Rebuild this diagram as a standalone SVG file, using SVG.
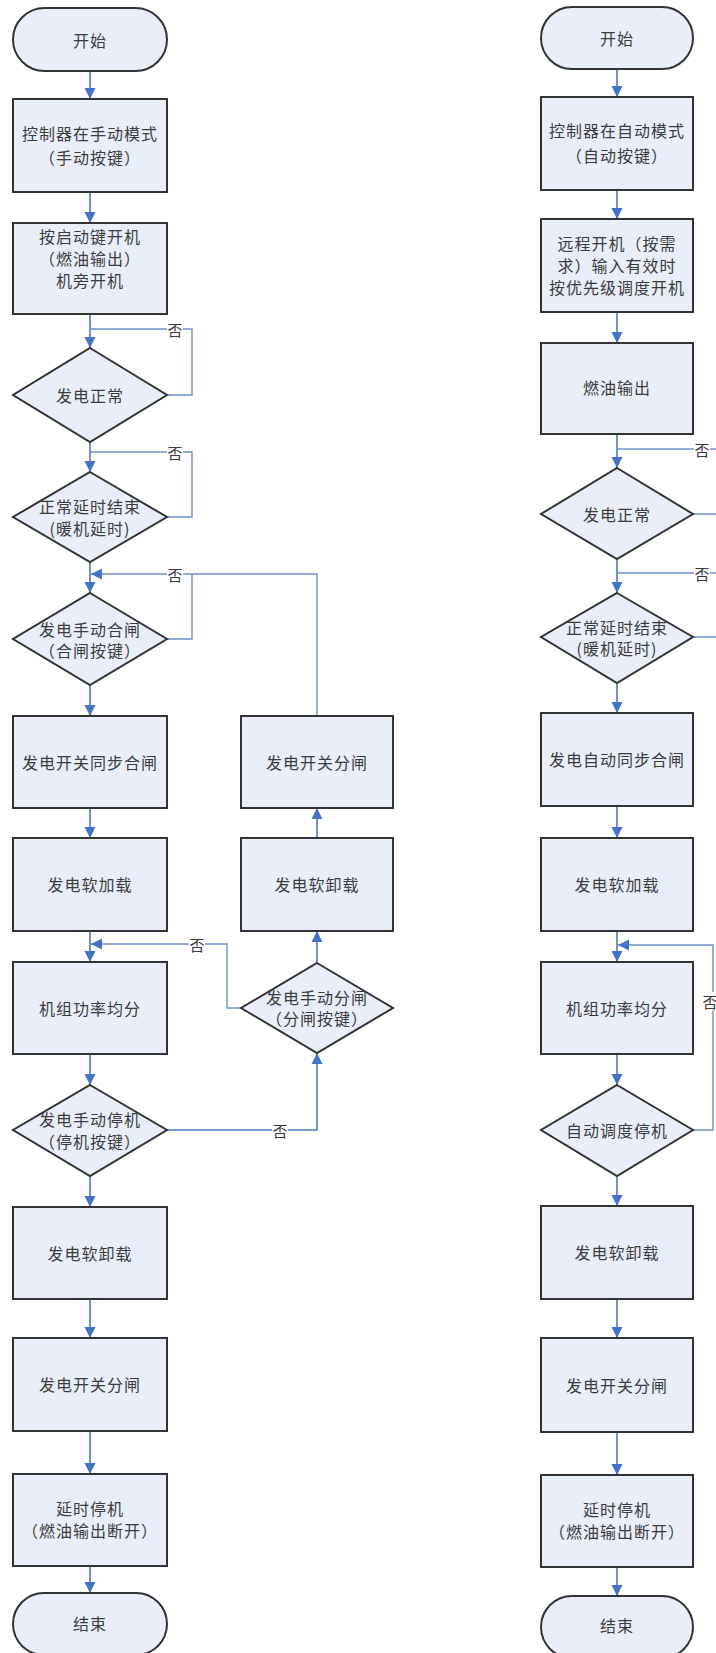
<svg xmlns="http://www.w3.org/2000/svg" width="716" height="1653" viewBox="0 0 716 1653">
<defs>
<marker id="arr" markerUnits="userSpaceOnUse" markerWidth="12" markerHeight="12" refX="11" refY="6" orient="auto">
<path d="M0,0.5 L11,6 L0,11.5 z" fill="#4472C4"/>
</marker>
<style>
.n{fill:#E9EEF8;stroke:#333;stroke-width:2}
.t{font-family:"Noto Sans CJK SC","Noto Sans CJK TC",sans-serif;font-size:16px;fill:#3c3c3c;text-anchor:middle;dominant-baseline:central;letter-spacing:1px}
.c{fill:none;stroke:#4F78BE;stroke-width:1.6}
.l{fill:none;stroke:#6F8FC6;stroke-width:1.4}
.lb{fill:#fff}
.y{font-family:"Noto Sans CJK SC",sans-serif;font-size:15px;fill:#3c3c3c;text-anchor:middle;dominant-baseline:central}
</style>
</defs>
<rect width="716" height="1653" fill="#fff"/>

<g id="connectors">
<!-- left column -->
<path class="c" d="M90,71 V99" marker-end="url(#arr)"/>
<path class="c" d="M90,192 V223" marker-end="url(#arr)"/>
<path class="c" d="M90,314 V348" marker-end="url(#arr)"/>
<path class="c" d="M90,442 V472" marker-end="url(#arr)"/>
<path class="c" d="M90,562 V593" marker-end="url(#arr)"/>
<path class="c" d="M90,685 V716" marker-end="url(#arr)"/>
<path class="c" d="M90,808 V838" marker-end="url(#arr)"/>
<path class="c" d="M90,931 V962" marker-end="url(#arr)"/>
<path class="c" d="M90,1054 V1085" marker-end="url(#arr)"/>
<path class="c" d="M90,1176 V1207" marker-end="url(#arr)"/>
<path class="c" d="M90,1299 V1338" marker-end="url(#arr)"/>
<path class="c" d="M90,1431 V1474" marker-end="url(#arr)"/>
<path class="c" d="M90,1566 V1593" marker-end="url(#arr)"/>
<path class="l" d="M167,395 H192 V329 H90"/>
<path class="l" d="M167,517 H192 V452 H90"/>
<path class="l" d="M167,639 H192 V574"/>
<path class="l" d="M317,716 V574 H91" marker-end="url(#arr)"/>
<path class="l" d="M241,1008 H227 V944 H91" marker-end="url(#arr)"/>
<path class="c" d="M167,1130 H317 V1053" marker-end="url(#arr)"/>
<path class="c" d="M317,963 V931" marker-end="url(#arr)"/>
<path class="c" d="M317,838 V808" marker-end="url(#arr)"/>
<!-- right column -->
<path class="c" d="M617,69 V97" marker-end="url(#arr)"/>
<path class="c" d="M617,190 V219" marker-end="url(#arr)"/>
<path class="c" d="M617,312 V343" marker-end="url(#arr)"/>
<path class="c" d="M617,434 V468" marker-end="url(#arr)"/>
<path class="c" d="M617,559 V593" marker-end="url(#arr)"/>
<path class="c" d="M617,683 V713" marker-end="url(#arr)"/>
<path class="c" d="M617,806 V838" marker-end="url(#arr)"/>
<path class="c" d="M617,931 V962" marker-end="url(#arr)"/>
<path class="c" d="M617,1054 V1085" marker-end="url(#arr)"/>
<path class="c" d="M617,1176 V1206" marker-end="url(#arr)"/>
<path class="c" d="M617,1299 V1338" marker-end="url(#arr)"/>
<path class="c" d="M617,1432 V1475" marker-end="url(#arr)"/>
<path class="c" d="M617,1567 V1596" marker-end="url(#arr)"/>
<path class="l" d="M617,449 H730"/>
<path class="l" d="M693,514 H730"/>
<path class="l" d="M617,573 H730"/>
<path class="l" d="M693,637 H730"/>
<path class="l" d="M693,1130 H713 V945 H618" marker-end="url(#arr)"/>
<!-- labels -->
<rect class="lb" x="167" y="321" width="16" height="16"/>
<text class="y" x="175" y="329">否</text>
<rect class="lb" x="167" y="444" width="16" height="16"/>
<text class="y" x="175" y="452">否</text>
<rect class="lb" x="167" y="566" width="16" height="16"/>
<text class="y" x="175" y="574">否</text>
<rect class="lb" x="189" y="936" width="16" height="16"/>
<text class="y" x="197" y="944">否</text>
<rect class="lb" x="272" y="1122" width="16" height="16"/>
<text class="y" x="280" y="1130">否</text>
<rect class="lb" x="694" y="441" width="16" height="16"/>
<text class="y" x="702" y="449">否</text>
<rect class="lb" x="694" y="565" width="16" height="16"/>
<text class="y" x="702" y="573">否</text>
<rect class="lb" x="704" y="992" width="16" height="18"/>
<text class="y" x="710" y="1001">否</text>
</g>

<!-- left column nodes -->
<g id="L_start"><rect class="n" x="13" y="8" width="154" height="63" rx="31.5"/><text class="t" x="90" y="39.5">开始</text></g>
<g id="L1"><rect class="n" x="13" y="99" width="154" height="93"/><text class="t" x="90" y="133">控制器在手动模式</text><text class="t" x="90" y="157">（手动按键）</text></g>
<g id="L2"><rect class="n" x="13" y="223" width="154" height="91"/><text class="t" x="90" y="236">按启动键开机</text><text class="t" x="90" y="258">（燃油输出）</text><text class="t" x="90" y="280">机旁开机</text></g>
<g id="L3"><polygon class="n" points="90,348 167,395 90,442 13,395"/><text class="t" x="90" y="395">发电正常</text></g>
<g id="L4"><polygon class="n" points="90,472 167,517 90,562 13,517"/><text class="t" x="90" y="506">正常延时结束</text><text class="t" x="90" y="528">(暖机延时)</text></g>
<g id="L5"><polygon class="n" points="90,593 167,639 90,685 13,639"/><text class="t" x="90" y="629">发电手动合闸</text><text class="t" x="90" y="650">（合闸按键）</text></g>
<g id="L6"><rect class="n" x="13" y="716" width="154" height="92"/><text class="t" x="90" y="762">发电开关同步合闸</text></g>
<g id="L7"><rect class="n" x="13" y="838" width="154" height="93"/><text class="t" x="90" y="884">发电软加载</text></g>
<g id="L8"><rect class="n" x="13" y="962" width="154" height="92"/><text class="t" x="90" y="1008">机组功率均分</text></g>
<g id="L9"><polygon class="n" points="90,1085 167,1130 90,1176 13,1130"/><text class="t" x="90" y="1119">发电手动停机</text><text class="t" x="90" y="1141">（停机按键）</text></g>
<g id="L10"><rect class="n" x="13" y="1207" width="154" height="92"/><text class="t" x="90" y="1253">发电软卸载</text></g>
<g id="L11"><rect class="n" x="13" y="1338" width="154" height="93"/><text class="t" x="90" y="1384">发电开关分闸</text></g>
<g id="L12"><rect class="n" x="13" y="1474" width="154" height="92"/><text class="t" x="90" y="1508">延时停机</text><text class="t" x="90" y="1530">（燃油输出断开）</text></g>
<g id="L_end"><rect class="n" x="13" y="1593" width="154" height="62" rx="31"/><text class="t" x="90" y="1623">结束</text></g>

<!-- branch nodes -->
<g id="B1"><rect class="n" x="241" y="716" width="152" height="92"/><text class="t" x="317" y="762">发电开关分闸</text></g>
<g id="B2"><rect class="n" x="241" y="838" width="152" height="93"/><text class="t" x="317" y="884">发电软卸载</text></g>
<g id="B3"><polygon class="n" points="317,963 393,1008 317,1053 241,1008"/><text class="t" x="317" y="997">发电手动分闸</text><text class="t" x="317" y="1018">（分闸按键）</text></g>

<!-- right column nodes -->
<g id="R_start"><rect class="n" x="541" y="7" width="152" height="62" rx="31"/><text class="t" x="617" y="38">开始</text></g>
<g id="R1"><rect class="n" x="541" y="97" width="152" height="93"/><text class="t" x="617" y="130">控制器在自动模式</text><text class="t" x="617" y="155">（自动按键）</text></g>
<g id="R2"><rect class="n" x="541" y="219" width="152" height="93"/><text class="t" x="617" y="243">远程开机（按需</text><text class="t" x="617" y="265">求）输入有效时</text><text class="t" x="617" y="287">按优先级调度开机</text></g>
<g id="R3"><rect class="n" x="541" y="343" width="152" height="91"/><text class="t" x="617" y="387">燃油输出</text></g>
<g id="R4"><polygon class="n" points="617,468 693,514 617,559 541,514"/><text class="t" x="617" y="514">发电正常</text></g>
<g id="R5"><polygon class="n" points="617,593 693,637 617,683 541,637"/><text class="t" x="617" y="627">正常延时结束</text><text class="t" x="617" y="648">(暖机延时)</text></g>
<g id="R6"><rect class="n" x="541" y="713" width="152" height="93"/><text class="t" x="617" y="759">发电自动同步合闸</text></g>
<g id="R7"><rect class="n" x="541" y="838" width="152" height="93"/><text class="t" x="617" y="884">发电软加载</text></g>
<g id="R8"><rect class="n" x="541" y="962" width="152" height="92"/><text class="t" x="617" y="1008">机组功率均分</text></g>
<g id="R9"><polygon class="n" points="617,1085 693,1130 617,1176 541,1130"/><text class="t" x="617" y="1130">自动调度停机</text></g>
<g id="R10"><rect class="n" x="541" y="1206" width="152" height="93"/><text class="t" x="617" y="1252">发电软卸载</text></g>
<g id="R11"><rect class="n" x="541" y="1338" width="152" height="94"/><text class="t" x="617" y="1385">发电开关分闸</text></g>
<g id="R12"><rect class="n" x="541" y="1475" width="152" height="92"/><text class="t" x="617" y="1509">延时停机</text><text class="t" x="617" y="1531">（燃油输出断开）</text></g>
<g id="R_end"><rect class="n" x="541" y="1596" width="152" height="62" rx="31"/><text class="t" x="617" y="1625">结束</text></g>
</svg>
